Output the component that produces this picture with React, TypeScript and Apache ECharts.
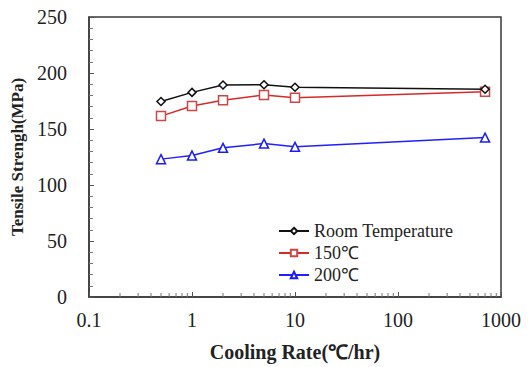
import React, { useEffect, useRef } from "react";
import * as echarts from "echarts";

const coolingRates = [0.5, 1, 2, 5, 10, 700];
const roomTemp = [174.5, 182.7, 189.3, 189.5, 187.3, 185.5];
const temp150 = [161.5, 170.6, 175.7, 180.4, 178.0, 183.2];
const temp200 = [123.1, 126.3, 133.2, 137.0, 134.1, 142.3];
const seriesNames = ["Room Temperature", "150℃", "200℃"];
const xTickLabels = ["0.1", "1", "10", "100", "1000"];
const minorXTicks = [
  0.2, 0.3, 0.4, 0.5, 0.6, 0.7, 0.8, 0.9,
  2, 3, 4, 5, 6, 7, 8, 9,
  20, 30, 40, 50, 60, 70, 80, 90,
  200, 300, 400, 500, 600, 700, 800, 900,
];

const FONT = "Liberation Serif, Times New Roman, serif";

export default function App() {
  const ref = useRef<HTMLDivElement>(null);
  useEffect(() => {
    if (!ref.current) return;
    const chart = echarts.init(ref.current, undefined, { renderer: "svg" });
    const mk = (vals: number[]) => coolingRates.map((x, i) => [x, vals[i]]);
    chart.setOption({
      animation: false,
      backgroundColor: "#ffffff",
      textStyle: { fontFamily: FONT },
      grid: {
        left: 89,
        right: 30,
        top: 17,
        bottom: 69,
        show: true,
        borderColor: "#3a3a3a",
        borderWidth: 1.5,
        backgroundColor: "transparent",
      },
      legend: {
        orient: "vertical",
        left: 278,
        top: 222,
        padding: 0,
        itemWidth: 30,
        itemHeight: 8,
        itemGap: 4,
        textStyle: { fontFamily: FONT, fontSize: 18, color: "#222" },
        data: seriesNames,
      },
      xAxis: {
        type: "log",
        logBase: 10,
        min: 0.1,
        max: 1000,
        name: "Cooling Rate(℃/hr)",
        nameLocation: "middle",
        nameGap: 45,
        nameTextStyle: { fontFamily: FONT, fontSize: 20, fontWeight: "bold", color: "#222" },
        axisLine: { show: true, lineStyle: { color: "#3a3a3a", width: 1.5 } },
        axisTick: { show: true, inside: true, length: 5, lineStyle: { color: "#555" } },
        splitLine: { show: false },
        axisLabel: {
          fontFamily: FONT,
          fontSize: 20,
          color: "#222",
          margin: 13,
          formatter: (v: number) => {
            const idx = Math.round(Math.log10(v)) + 1;
            return xTickLabels[idx] ?? String(v);
          },
        },
      },
      yAxis: {
        type: "value",
        min: 0,
        max: 250,
        interval: 50,
        name: "Tensile Strengh(MPa)",
        nameLocation: "middle",
        nameGap: 61,
        nameTextStyle: { fontFamily: FONT, fontSize: 17, fontWeight: "bold", color: "#222" },
        axisLine: { show: true, lineStyle: { color: "#3a3a3a", width: 1.5 } },
        axisTick: { show: true, inside: true, length: 5, lineStyle: { color: "#555" } },
        minorTick: { show: true, splitNumber: 5, length: 4, lineStyle: { color: "#777" } },
        splitLine: { show: false },
        minorSplitLine: { show: false },
        axisLabel: { fontFamily: FONT, fontSize: 20, color: "#222", margin: 22 },
      },
      series: [
        {
          name: seriesNames[0],
          type: "line",
          data: mk(roomTemp),
          symbol: "diamond",
          symbolSize: 8,
          itemStyle: { color: "#fff", borderColor: "#111", borderWidth: 1.5 },
          lineStyle: { color: "#111", width: 1.5 },
          color: "#111",
          z: 5,
        },
        {
          name: seriesNames[1],
          type: "line",
          data: mk(temp150),
          symbol: "rect",
          symbolSize: 9,
          itemStyle: { color: "#fff", borderColor: "#d04545", borderWidth: 1.5 },
          lineStyle: { color: "#d42a2a", width: 1.5 },
          color: "#d42a2a",
          z: 4,
        },
        {
          name: seriesNames[2],
          type: "line",
          data: mk(temp200),
          symbol: "triangle",
          symbolSize: 9,
          itemStyle: { color: "#fff", borderColor: "#1a1aff", borderWidth: 1.5 },
          lineStyle: { color: "#2020ff", width: 1.5 },
          color: "#2020ff",
          z: 3,
        },
        {
          type: "custom",
          silent: true,
          data: minorXTicks.map((v) => [v, 0]),
          renderItem: (_params: any, api: any) => {
            const p = api.coord([api.value(0), 0]);
            return {
              type: "line",
              shape: { x1: p[0], y1: p[1], x2: p[0], y2: p[1] - 4 },
              style: { stroke: "#777", lineWidth: 1 },
            };
          },
          z: 2,
        },
      ],
    });
    return () => chart.dispose();
  }, []);
  return (
    <div
      ref={ref}
      style={{ position: "fixed", left: 0, top: 0, width: 531, height: 367 }}
    />
  );
}
